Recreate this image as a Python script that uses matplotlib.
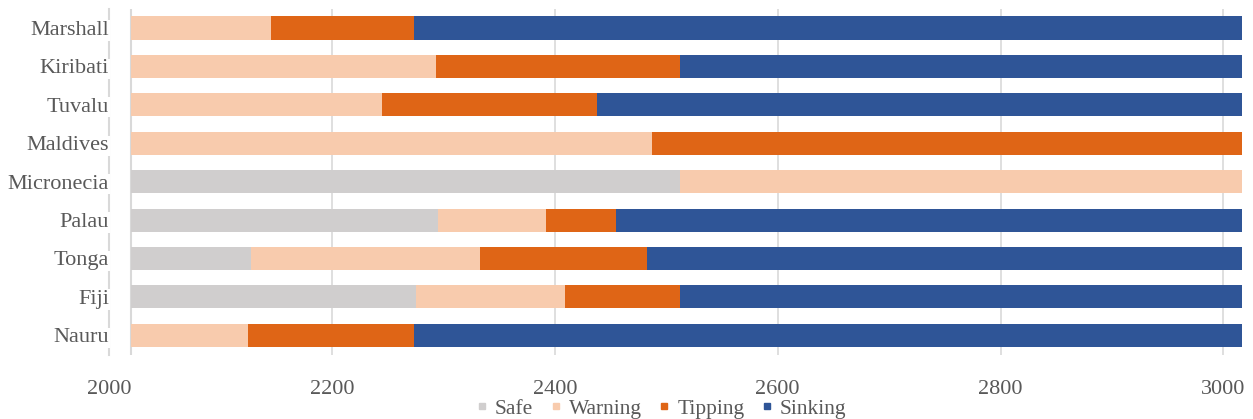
import matplotlib
matplotlib.use("Agg")
import matplotlib.pyplot as plt
from matplotlib.lines import Line2D
import numpy as np

plt.rcParams['font.family'] = ['Liberation Serif', 'DejaVu Serif']

countries = ["Nauru", "Fiji", "Tonga", "Palau", "Micronecia",
             "Maldives", "Tuvalu", "Kiribati", "Marshall"]
start_year = 2020
safe    = [0,   255, 107, 275, 492, 0,   0,   0,   0]
warning = [105, 134, 206, 97,  505, 467, 225, 273, 125]
tipping = [149, 103, 150, 63,  0,   530, 193, 219, 129]
sinking = [743, 505, 534, 562, 0,   0,   579, 505, 743]
series_names = ["Safe", "Warning", "Tipping", "Sinking"]
series_vals = [safe, warning, tipping, sinking]
colors = ["#D0CECE", "#F8CBAD", "#DF6516", "#2F5597"]
xticks = [2000, 2200, 2400, 2600, 2800, 3000]

W, H = 1253, 419
fig = plt.figure(figsize=(W / 100, H / 100), dpi=100)
ax = fig.add_axes([109.2 / W, 1 - 354.5 / H, (1242.3 - 109.2) / W, (354.5 - 8.8) / H])

y = np.arange(len(countries))
left = np.full(len(countries), float(start_year))
for name, vals, c in zip(series_names, series_vals, colors):
    v = np.array(vals, dtype=float)
    ax.barh(y, v, left=left, height=0.6, color=c, edgecolor='none', zorder=3, label=name)
    left = left + v

ax.set_xlim(2000, 3017)
ax.set_ylim(-0.5, len(countries) - 0.5)
ax.set_xticks(xticks)
ax.set_xticklabels([str(t) for t in xticks])
ax.set_yticks(y)
ax.set_yticklabels(countries)
ax.grid(axis='x', color='#D9D9D9', linewidth=1.2, zorder=0)
ax.axvline(xticks[0], color='#D9D9D9', linewidth=1.5, zorder=0, clip_on=False)
ax.axvline(start_year, color='#D9D9D9', linewidth=1.5, zorder=2)
for s in ax.spines.values():
    s.set_visible(False)
ax.tick_params(axis='both', length=0, labelsize=16, labelcolor='#595959')
ax.tick_params(axis='x', pad=18)
ax.tick_params(axis='y', pad=0)
for lab in ax.get_yticklabels():
    lab.set_bbox(dict(facecolor='white', edgecolor='none', pad=0.5))
    lab.set_zorder(5)

handles = [Line2D([0], [0], marker='s', linestyle='none', markersize=5,
                  markerfacecolor=c, markeredgecolor=c) for c in colors]
fig.legend(handles, series_names, loc='center', ncol=4, frameon=False,
           bbox_to_anchor=(661 / W, 1 - 409 / H), fontsize=15.5,
           labelcolor='#595959', handlelength=0.6, handletextpad=0.3,
           columnspacing=0.75, borderpad=0)

fig.savefig("out.png", dpi=100)
